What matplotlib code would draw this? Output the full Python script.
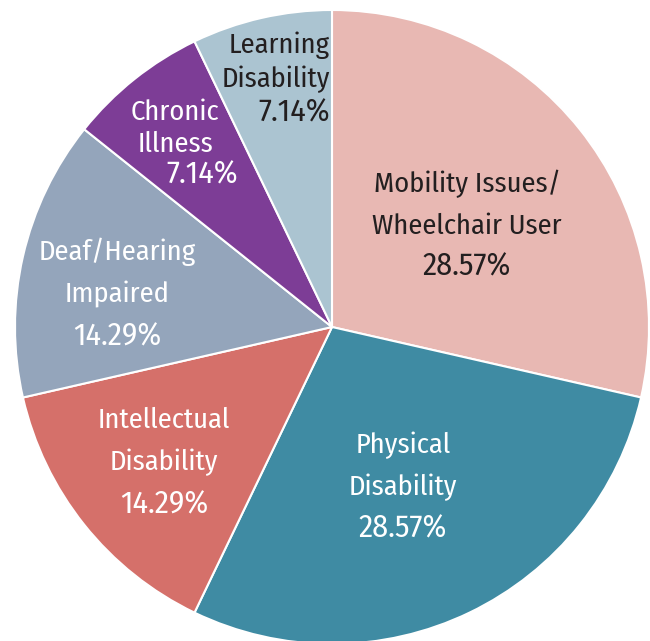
import matplotlib.pyplot as plt

# === Data ===
names = [["Mobility Issues/", "Wheelchair User"], ["Physical", "Disability"], ["Intellectual", "Disability"],
         ["Deaf/Hearing", "Impaired"], ["Chronic", "Illness"], ["Learning", "Disability"]]
shares = [28.57, 28.57, 14.29, 14.29, 7.14, 7.14]

# === Style / layout (label anchors in pixels from top-left) ===
colors = ["#E8B8B3", "#3F8BA3", "#D5706A", "#94A5BB", "#7D3D96", "#ABC4D1"]
text_colors = ["#231F20", "white", "white", "white", "white", "#231F20"]
name_x = [467, 403, 164, 117, 175, 330]
name_ha = ["center", "center", "center", "center", "center", "right"]
pct_x = [467, 403, 164, 117, 238, 330]
pct_ha = ["center", "center", "center", "center", "right", "right"]
first_base = [192, 453, 428, 260, 120, 53]
line_gap = [41.5, 42, 42.5, 42.5, 31.5, 34]

plt.rcParams['font.family'] = ['Fira Sans Condensed', 'DejaVu Sans']

W, H = 650, 641
fig = plt.figure(figsize=(W / 100, H / 100), dpi=100)
ax = fig.add_axes([0, 0, 1, 1])

cx, cy, R = 332, H - 327, 317
wedges, _ = ax.pie(shares, colors=colors, startangle=90, counterclock=False,
                   center=(cx, cy), radius=R, frame=True,
                   wedgeprops=dict(edgecolor='white', linewidth=1.5))
ax.set_xlim(0, W)
ax.set_ylim(0, H)
ax.set_aspect('equal')
ax.axis('off')

for i, val in enumerate(shares):
    lines = names[i] + [f"{val:.2f}%"]
    for k, line in enumerate(lines):
        is_pct = k == len(lines) - 1
        x = pct_x[i] if is_pct else name_x[i]
        ha = pct_ha[i] if is_pct else name_ha[i]
        y = H - (first_base[i] + k * line_gap[i])
        ax.text(x, y, line, color=text_colors[i], fontsize=23 if is_pct else 20.5,
                ha=ha, va='baseline')

fig.savefig('out.png', dpi=100, facecolor='white')
